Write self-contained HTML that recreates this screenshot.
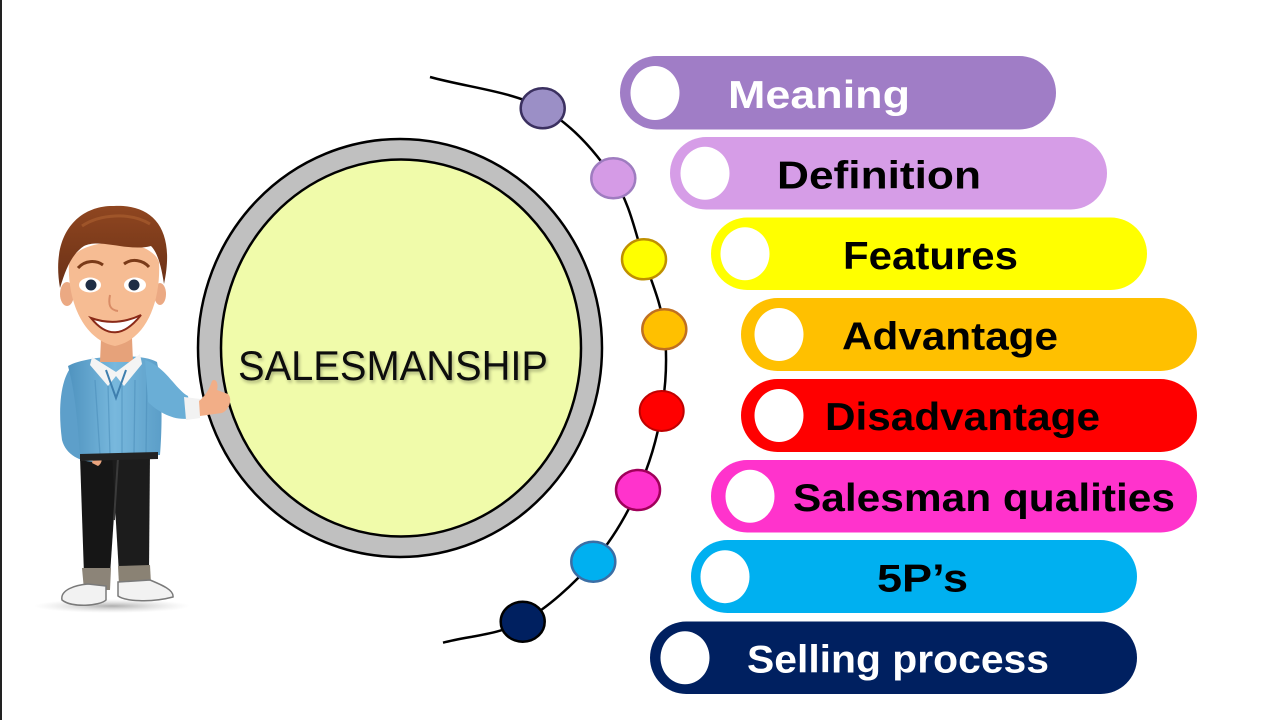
<!DOCTYPE html>
<html>
<head>
<meta charset="utf-8">
<style>
  html,body{margin:0;padding:0;background:#fff;}
  svg{display:block;}
  .lbl{font-family:"Liberation Sans",Arial,sans-serif;font-weight:bold;font-size:39px;}
</style>
</head>
<body>
<svg width="1280" height="720" viewBox="0 0 1280 720" xmlns="http://www.w3.org/2000/svg">
  <defs>
    <filter id="tshadow" x="-10%" y="-30%" width="120%" height="160%">
      <feGaussianBlur in="SourceAlpha" stdDeviation="1.6"/>
      <feOffset dx="1.5" dy="2.5" result="o"/>
      <feComponentTransfer><feFuncA type="linear" slope="0.28"/></feComponentTransfer>
      <feMerge><feMergeNode/><feMergeNode in="SourceGraphic"/></feMerge>
    </filter>
    <radialGradient id="shadowG" cx="50%" cy="50%" r="50%">
      <stop offset="0" stop-color="#9a9a9a" stop-opacity="0.8"/>
      <stop offset="1" stop-color="#cccccc" stop-opacity="0"/>
    </radialGradient>
    <linearGradient id="hairG" x1="0" y1="0" x2="0" y2="1">
      <stop offset="0" stop-color="#8f4620"/>
      <stop offset="1" stop-color="#6a3016"/>
    </linearGradient>
    <linearGradient id="sweaterG" x1="0" y1="0" x2="1" y2="0">
      <stop offset="0" stop-color="#4f93bf"/>
      <stop offset="0.5" stop-color="#78b8dd"/>
      <stop offset="1" stop-color="#5b9ec8"/>
    </linearGradient>
  </defs>

  <rect width="1280" height="720" fill="#fff"/>
  <rect x="0" y="0" width="2" height="720" fill="#222"/>

  <!-- Big circle -->
  <ellipse cx="400" cy="348" rx="202" ry="209" fill="#c0c0c0" stroke="#000" stroke-width="2.5"/>
  <ellipse cx="401" cy="348" rx="180" ry="188.5" fill="#f0fbaa" stroke="#000" stroke-width="2.5"/>
  <text x="238" y="380" textLength="310" lengthAdjust="spacingAndGlyphs" font-family="Liberation Sans, Arial, sans-serif" font-size="42" fill="#111" filter="url(#tshadow)">SALESMANSHIP</text>

  <!-- Arc -->
  <path d="M430,77 C467.6,87.4 512.2,91.4 542.7,108.3 C573.2,125.2 596.4,153.1 613.3,178.3 C630.2,203.5 635.5,234.1 644,259.3 C652.5,284.5 661.4,304 664.3,329.3 C667.3,354.6 666.1,384.2 661.7,411 C657.3,437.8 649.4,464.9 638,490 C626.6,515.1 612.5,539.8 593.3,561.7 C574.1,583.6 547.8,608.2 522.7,621.7 C497.7,635.2 469.6,635.7 443,642.7" fill="none" stroke="#000" stroke-width="2.5"/>

  <!-- Dots -->
  <ellipse cx="542.7" cy="108.3" rx="22" ry="20" fill="#9b8fc6" stroke="#3b3060" stroke-width="2.5"/>
  <ellipse cx="613.3" cy="178.3" rx="22" ry="20" fill="#d59be6" stroke="#9f7cc0" stroke-width="2.5"/>
  <ellipse cx="644" cy="259.3" rx="22" ry="20" fill="#ffff00" stroke="#bf9000" stroke-width="2.5"/>
  <ellipse cx="664.3" cy="329.3" rx="22" ry="20" fill="#ffc000" stroke="#c07020" stroke-width="2.5"/>
  <ellipse cx="661.7" cy="411" rx="22" ry="20" fill="#ff0000" stroke="#c00000" stroke-width="2"/>
  <ellipse cx="638" cy="490" rx="22" ry="20" fill="#ff33cc" stroke="#a0005a" stroke-width="2.5"/>
  <ellipse cx="593.3" cy="561.7" rx="22" ry="20" fill="#00b0f0" stroke="#3a6ea5" stroke-width="2.5"/>
  <ellipse cx="522.7" cy="621.7" rx="22" ry="20" fill="#002060" stroke="#000" stroke-width="2.5"/>

  <!-- Pills -->
  <rect x="620" y="56" width="436" height="73.5" rx="36.75" fill="#a07dc6"/>
  <ellipse cx="655" cy="93" rx="24.5" ry="27" fill="#fff"/>
  <text class="lbl" x="728" y="108" textLength="182" lengthAdjust="spacingAndGlyphs" fill="#fff">Meaning</text>

  <rect x="670" y="137" width="437" height="72.5" rx="36.25" fill="#d69de7"/>
  <ellipse cx="705" cy="173.3" rx="24.5" ry="26.5" fill="#fff"/>
  <text class="lbl" x="777" y="188.5" textLength="204" lengthAdjust="spacingAndGlyphs" fill="#000">Definition</text>

  <rect x="711" y="217.5" width="436" height="72.5" rx="36.25" fill="#ffff00"/>
  <ellipse cx="745" cy="253.8" rx="24.5" ry="26.5" fill="#fff"/>
  <text class="lbl" x="843" y="269" textLength="175" lengthAdjust="spacingAndGlyphs" fill="#000">Features</text>

  <rect x="741" y="298" width="456" height="73" rx="36.5" fill="#ffc000"/>
  <ellipse cx="779" cy="334.5" rx="24.5" ry="26.5" fill="#fff"/>
  <text class="lbl" x="842" y="349.5" textLength="216" lengthAdjust="spacingAndGlyphs" fill="#000">Advantage</text>

  <rect x="741" y="379" width="456" height="73" rx="36.5" fill="#ff0000"/>
  <ellipse cx="779" cy="415.5" rx="24.5" ry="26.5" fill="#fff"/>
  <text class="lbl" x="825" y="430" textLength="275" lengthAdjust="spacingAndGlyphs" fill="#000">Disadvantage</text>

  <rect x="711" y="460" width="486" height="72.5" rx="36.25" fill="#ff33cc"/>
  <ellipse cx="750" cy="496.3" rx="24.5" ry="26.5" fill="#fff"/>
  <text class="lbl" x="793" y="511" textLength="382" lengthAdjust="spacingAndGlyphs" fill="#000">Salesman qualities</text>

  <rect x="691" y="540" width="446" height="73" rx="36.5" fill="#00b0f0"/>
  <ellipse cx="725" cy="576.7" rx="24.5" ry="26.5" fill="#fff"/>
  <text class="lbl" x="877" y="591.5" textLength="91" lengthAdjust="spacingAndGlyphs" fill="#000">5P’s</text>

  <rect x="650" y="621.5" width="487" height="72.5" rx="36.25" fill="#002060"/>
  <ellipse cx="685" cy="657.8" rx="24.5" ry="26.5" fill="#fff"/>
  <text class="lbl" x="747" y="672.5" textLength="302" lengthAdjust="spacingAndGlyphs" fill="#fff">Selling process</text>

  <!-- Person -->
  <ellipse cx="112" cy="606" rx="78" ry="7" fill="url(#shadowG)"/>
  <!-- pants -->
  <path d="M80,456 L118,456 L110,575 L84,575 Z" fill="#161616"/>
  <path d="M112,455 L150,452 L149,572 L119,574 Z" fill="#1c1c1c"/>
  <path d="M118,458 L114,520" stroke="#3a3a3a" stroke-width="2" fill="none"/>
  <!-- cuffs -->
  <path d="M82,568 L111,568 L110,590 L84,590 Z" fill="#8c8478"/>
  <path d="M118,566 L150,565 L151,584 L119,585 Z" fill="#8a8274"/>
  <!-- shoes -->
  <path d="M62,600 C60,590 75,585 88,584 L106,586 L106,600 C100,606 72,608 62,600 Z" fill="#f2f2f2" stroke="#7a7a7a" stroke-width="1.5"/>
  <path d="M118,582 L150,580 C162,585 174,590 173,597 C150,603 125,601 118,596 Z" fill="#f2f2f2" stroke="#7a7a7a" stroke-width="1.5"/>
  <!-- left arm (hanging) -->
  <path d="M72,366 C60,380 58,410 62,440 C66,455 80,462 96,462 L98,450 C90,440 88,420 90,395 Z" fill="#5d9fca"/>
  <path d="M82,446 L98,448 L97,462 L84,460 Z" fill="#f2f2f2"/>
  <path d="M96,452 C102,455 104,462 98,466 L92,463 Z" fill="#e9a47e"/>
  <!-- torso -->
  <path d="M68,366 C85,356 140,352 157,362 C163,390 162,430 160,455 L80,458 C78,430 76,395 68,366 Z" fill="url(#sweaterG)"/>
  <path d="M95,380 L100,455 M108,385 L110,455 M122,386 L122,455 M135,380 L134,455 M147,372 L146,455" stroke="#4d8fbb" stroke-width="1.3" fill="none" opacity="0.6"/>
  <path d="M80,454 L158,452 L158,459 L80,461 Z" fill="#222"/>
  <!-- right arm pointing -->
  <path d="M145,360 C165,366 176,390 188,396 L192,418 C175,422 158,412 148,402 Z" fill="#6aaed6"/>
  <path d="M184,397 L200,399 L200,418 L186,420 Z" fill="#f2f2f2"/>
  <path d="M199,401 C205,396 209,390 212,381 C215,378 219,382 217,390 L228,394 C233,399 229,410 222,413 L200,416 Z" fill="#f2ae87"/>
  <!-- neck & collar -->
  <path d="M101,338 L132,338 L133,362 L100,362 Z" fill="#e6a27a"/>
  <path d="M92,357 L116,372 L140,354 L142,364 L124,386 L116,376 L108,386 L90,365 Z" fill="#f4f4f4"/>
  <path d="M106,370 L116,398 L126,370" fill="none" stroke="#3f7fae" stroke-width="2"/>
  <!-- ears -->
  <ellipse cx="67" cy="294" rx="7" ry="12" fill="#eba983"/>
  <ellipse cx="160" cy="294" rx="6" ry="11" fill="#eba983"/>
  <!-- face -->
  <path d="M69,262 C67,302 84,340 115,346 C146,340 161,302 159,262 C150,236 80,236 69,262 Z" fill="#f6bc93"/>
  <!-- hair -->
  <path d="M60,288 C50,230 82,205 114,206 C152,204 176,228 164,284 C161,264 157,252 151,246 C128,252 100,238 84,246 C72,254 66,268 60,288 Z" fill="url(#hairG)"/>
  <path d="M82,226 C100,214 130,212 150,224" stroke="#a85c2e" stroke-width="3" fill="none" opacity="0.7"/>
  <!-- eyebrows -->
  <path d="M78,268 C85,260 96,260 103,265" stroke="#7a3a18" stroke-width="3" fill="none"/>
  <path d="M124,264 C132,258 143,260 149,267" stroke="#7a3a18" stroke-width="3" fill="none"/>
  <!-- eyes -->
  <ellipse cx="90" cy="285" rx="11" ry="7.5" fill="#fff"/>
  <ellipse cx="135" cy="285" rx="11" ry="7.5" fill="#fff"/>
  <circle cx="91" cy="285" r="5.5" fill="#1e2d45"/>
  <circle cx="134" cy="285" r="5.5" fill="#1e2d45"/>
  <!-- nose -->
  <path d="M110,295 C108,305 110,310 118,311" stroke="#d98c66" stroke-width="2" fill="none"/>
  <!-- mouth -->
  <path d="M91,318 Q115,348 141,315 Q116,327 91,318 Z" fill="#fff" stroke="#8a2a18" stroke-width="2"/>
</svg>
</body>
</html>
